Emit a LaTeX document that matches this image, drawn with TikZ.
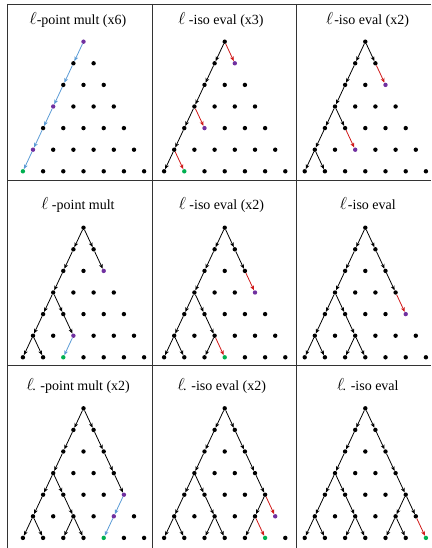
\documentclass[tikz,border=0pt]{standalone}
\usepackage{fontspec}
\setmainfont{Liberation Serif}
\usetikzlibrary{arrows.meta}
\definecolor{purp}{HTML}{7030A0}
\definecolor{grn}{HTML}{00B050}
\definecolor{redc}{HTML}{D01818}
\definecolor{bluec}{HTML}{5B9BD5}
\definecolor{gridc}{HTML}{333333}
\newcommand\setdc[4]{\expandafter\def\csname dc@#1@#2@#3\endcsname{#4}}
\newcommand\mkpanel[3]{%
  \foreach \i in {0,...,6}{%
    \foreach \j in {0,...,\i}{%
      \edef\dcol{\ifcsname dc@#1@\i @\j\endcsname\csname dc@#1@\i @\j\endcsname\else black\fi}%
      \node[dot,fill=\dcol] (#1-\i-\j) at ({#2+(2*\j-\i)*10.1},{#3+\i*21.6}) {};
    }%
  }%
}
\newcommand\edges[3]{\foreach \a/\b/\c/\d in {#3}{\draw[#2] (#1-\a-\b) -- (#1-\c-\d);}}
\begin{document}
\begin{tikzpicture}[x=1pt,y=-1pt,
  dot/.style={circle,inner sep=0pt,minimum size=4.4pt,draw=none},
  arr/.style={line width=0.8pt,-{Stealth[length=4.6pt,width=3.8pt,inset=1.2pt]}},
  blk/.style={arr,black},
  red/.style={arr,redc},
  blu/.style={arr,bluec},
  gridline/.style={gridc,line width=0.8pt},
  title/.style={anchor=base,inner sep=0pt,font=\fontsize{14}{16}\selectfont}]
\useasboundingbox (0,0) rectangle (431,548);
% grid
\draw[gridline] (7.3,4) -- (431,4);
\draw[gridline] (7.3,180.5) -- (431,180.5);
\draw[gridline] (7.3,365.7) -- (431,365.7);
\draw[gridline] (7.3,4) -- (7.3,548);
\draw[gridline] (152.7,4) -- (152.7,548);
\draw[gridline] (296.7,4) -- (296.7,548);
% titles
\node[title] (t1) at (78,25) {{\fontsize{16}{16}\selectfont$\ell$}-point mult (x6)};
\node[title] (t2) at (221,25) {{\fontsize{16}{16}\selectfont$\ell$} -iso eval (x3)};
\node[title] (t3) at (367.6,25) {{\fontsize{16}{16}\selectfont$\ell$}\kern1pt-iso eval (x2)};
\node[title] (t4) at (78,209.5) {{\fontsize{16}{16}\selectfont$\ell$} -point mult};
\node[title] (t5) at (221.5,209.5) {{\fontsize{16}{16}\selectfont$\ell$} -iso eval (x2)};
\node[title] (t6) at (367.8,209.5) {{\fontsize{16}{16}\selectfont$\ell$}\kern1pt-iso eval};
\node[title] (t7) at (78.3,390) {{\fontsize{16}{16}\selectfont$\ell$}\kern-1.5pt. -point mult (x2)};
\node[title] (t8) at (221.8,390) {{\fontsize{16}{16}\selectfont$\ell$}\kern-1.5pt. -iso eval (x2)};
\node[title] (t9) at (367.8,390) {{\fontsize{16}{16}\selectfont$\ell$}\kern-1.5pt. -iso eval};
% colours of special dots
\setdc{p1}{0}{0}{purp}\setdc{p1}{3}{0}{purp}\setdc{p1}{5}{0}{purp}\setdc{p1}{6}{0}{grn}
\setdc{p2}{1}{1}{purp}\setdc{p2}{4}{1}{purp}\setdc{p2}{6}{1}{grn}
\setdc{p3}{2}{2}{purp}\setdc{p3}{5}{2}{purp}
\setdc{p4}{2}{2}{purp}\setdc{p4}{5}{2}{purp}\setdc{p4}{6}{2}{grn}
\setdc{p5}{3}{3}{purp}\setdc{p5}{6}{3}{grn}
\setdc{p6}{4}{4}{purp}
\setdc{p7}{4}{4}{purp}\setdc{p7}{5}{4}{purp}\setdc{p7}{6}{4}{grn}
\setdc{p8}{5}{5}{purp}\setdc{p8}{6}{5}{grn}
\setdc{p9}{6}{6}{grn}
% panels
\mkpanel{p1}{83.5}{41.7}
\mkpanel{p2}{224.7}{41.7}
\mkpanel{p3}{365.3}{41.7}
\mkpanel{p4}{83.5}{227.7}
\mkpanel{p5}{224.7}{227.7}
\mkpanel{p6}{365.3}{227.7}
\mkpanel{p7}{83.5}{408.3}
\mkpanel{p8}{224.7}{408.3}
\mkpanel{p9}{365.3}{408.3}
% panel 1
\edges{p1}{blu}{0/0/1/0,1/0/2/0,2/0/3/0,3/0/4/0,4/0/5/0,5/0/6/0}
% panel 2
\edges{p2}{blk}{0/0/1/0,1/0/2/0,2/0/3/0,3/0/4/0,4/0/5/0,5/0/6/0}
\edges{p2}{red}{0/0/1/1,3/0/4/1,5/0/6/1}
% panel 3
\edges{p3}{blk}{0/0/1/0,0/0/1/1,1/0/2/0,2/0/3/0,3/0/4/0,3/0/4/1,4/0/5/0,5/0/6/0,5/0/6/1}
\edges{p3}{red}{1/1/2/2,4/1/5/2}
% panel 4
\edges{p4}{blk}{0/0/1/0,0/0/1/1,1/0/2/0,1/1/2/2,2/0/3/0,3/0/4/0,3/0/4/1,4/0/5/0,4/1/5/2,5/0/6/0,5/0/6/1}
\edges{p4}{blu}{5/2/6/2}
% panel 5
\edges{p5}{blk}{0/0/1/0,0/0/1/1,1/0/2/0,1/1/2/2,2/0/3/0,3/0/4/0,3/0/4/1,4/0/5/0,4/1/5/2,5/0/6/0,5/0/6/1,5/2/6/2}
\edges{p5}{red}{2/2/3/3,5/2/6/3}
% panel 6
\edges{p6}{blk}{0/0/1/0,0/0/1/1,1/0/2/0,1/1/2/2,2/0/3/0,2/2/3/3,3/0/4/0,3/0/4/1,4/0/5/0,4/1/5/2,5/0/6/0,5/0/6/1,5/2/6/2,5/2/6/3}
\edges{p6}{red}{3/3/4/4}
% panel 7
\edges{p7}{blk}{0/0/1/0,0/0/1/1,1/0/2/0,1/1/2/2,2/0/3/0,2/2/3/3,3/0/4/0,3/0/4/1,3/3/4/4,4/0/5/0,4/1/5/2,5/0/6/0,5/0/6/1,5/2/6/2,5/2/6/3}
\edges{p7}{blu}{4/4/5/4,5/4/6/4}
% panel 8
\edges{p8}{blk}{0/0/1/0,0/0/1/1,1/0/2/0,1/1/2/2,2/0/3/0,2/2/3/3,3/0/4/0,3/0/4/1,3/3/4/4,4/0/5/0,4/1/5/2,4/4/5/4,5/0/6/0,5/0/6/1,5/2/6/2,5/2/6/3,5/4/6/4}
\edges{p8}{red}{4/4/5/5,5/4/6/5}
% panel 9
\edges{p9}{blk}{0/0/1/0,0/0/1/1,1/0/2/0,1/1/2/2,2/0/3/0,2/2/3/3,3/0/4/0,3/0/4/1,3/3/4/4,4/0/5/0,4/1/5/2,4/4/5/4,4/4/5/5,5/0/6/0,5/0/6/1,5/2/6/2,5/2/6/3,5/4/6/4,5/4/6/5}
\edges{p9}{red}{5/5/6/6}
\end{tikzpicture}
\end{document}
